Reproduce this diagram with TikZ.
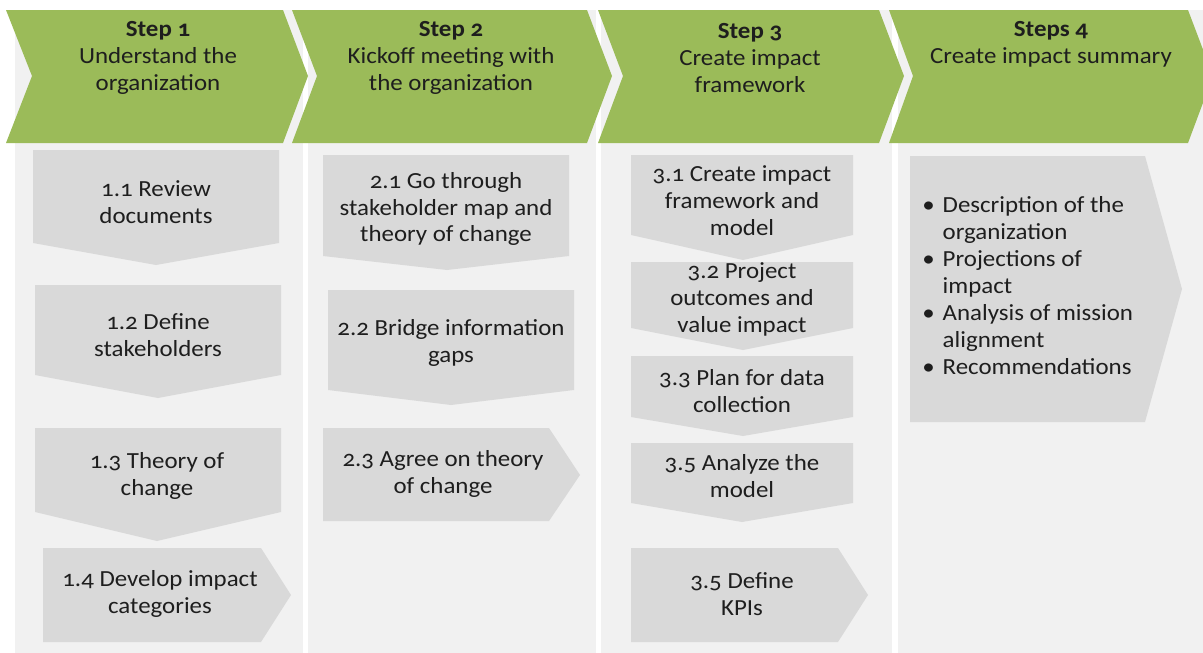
\documentclass[tikz,border=0pt]{standalone}
\usepackage{fontspec}
\setmainfont{Carlito}[Numbers=OldStyle,FakeStretch=1.08]
\definecolor{hdrgreen}{HTML}{9BBB59}
\definecolor{panelgray}{HTML}{F1F1F1}
\definecolor{boxgray}{HTML}{D9D9D9}
\definecolor{txt}{HTML}{1E1E1E}
\begin{document}
\begin{tikzpicture}[x=0.75pt,y=-0.75pt,
  hdr/.style={fill=hdrgreen,draw=none},
  panel/.style={fill=panelgray,draw=none},
  gbox/.style={fill=boxgray,draw=none},
  lbl/.style={text=txt,align=center,font=\fontsize{17.3}{20.2}\selectfont,inner sep=0pt},
  hlbl/.style={lbl}]
\useasboundingbox (0,0) rectangle (1203,653);
% column panels
\fill[panel] (15,10) rectangle (303,653);
\fill[panel] (308,10) rectangle (596,653);
\fill[panel] (601,10) rectangle (892,653);
\fill[panel] (898,10) rectangle (1203,653);
% header chevrons
\fill[hdr] (6,10) -- (283,10) -- (308,76) -- (283,143) -- (6,143) -- (32,76) -- cycle;
\fill[hdr] (292,10) -- (587,10) -- (612,76) -- (587,143) -- (292,143) -- (317,76) -- cycle;
\fill[hdr] (598,10) -- (879,10) -- (904,76) -- (879,143) -- (598,143) -- (623,76) -- cycle;
\fill[hdr] (889,10) -- (1188,10) -- (1213,76) -- (1188,143) -- (889,143) -- (913,76) -- cycle;
\node[hlbl] (h1) at (158,58) {\textbf{Step 1}\\Understand the\\organization};
\node[hlbl] (h2) at (451,58) {\textbf{Step 2}\\Kickoff meeting with\\the organization};
\node[hlbl] (h3) at (750,58) {\textbf{Step 3}\\Create impact\\framework};
\node[hlbl] (h4) at (1051,44.5) {\textbf{Steps 4}\\Create impact summary};
% column 1
\fill[gbox] (33,150) -- (279,150) -- (279,243) -- (156,265) -- (33,243) -- cycle;
\node[lbl] (b11) at (156,202) {1.1 Review\\documents};
\fill[gbox] (35,285) -- (281,285) -- (281,375) -- (158,398) -- (35,375) -- cycle;
\node[lbl] (b12) at (158,335) {1.2 Define\\stakeholders};
\fill[gbox] (35,428) -- (281,428) -- (281,512) -- (157,541) -- (35,512) -- cycle;
\node[lbl] (b13) at (157,476) {1.3 Theory of\\change};
\fill[gbox] (43,548) -- (261,548) -- (291,595) -- (261,642) -- (43,642) -- cycle;
\node[lbl] (b14) at (160,594) {1.4 Develop impact\\categories};
% column 2
\fill[gbox] (323,155) -- (569,155) -- (569,256) -- (447,270) -- (323,256) -- cycle;
\node[lbl] (b21) at (446,209) {2.1 Go through\\stakeholder map and\\theory of change};
\fill[gbox] (328,290) -- (574,290) -- (574,390) -- (451,405) -- (328,390) -- cycle;
\node[lbl] (b22) at (451,343) {2.2 Bridge information\\gaps};
\fill[gbox] (323,428) -- (549,428) -- (580,475) -- (549,521) -- (323,521) -- cycle;
\node[lbl] (b23) at (443,474) {2.3 Agree on theory\\of change};
% column 3
\fill[gbox] (631,155) -- (853,155) -- (853,235) -- (743,260) -- (631,235) -- cycle;
\node[lbl] (b31) at (742,201) {3.1 Create impact\\framework and\\model};
\fill[gbox] (631,262) -- (853,262) -- (853,328) -- (743,350) -- (631,328) -- cycle;
\node[lbl] (b32) at (742,299) {3.2 Project\\outcomes and\\value impact};
\fill[gbox] (631,356) -- (853,356) -- (853,417) -- (743,436) -- (631,417) -- cycle;
\node[lbl] (b33) at (742,391) {3.3 Plan for data\\collection};
\fill[gbox] (631,443) -- (853,443) -- (853,503) -- (742,522) -- (631,503) -- cycle;
\node[lbl] (b34) at (742,476) {3.5 Analyze the\\model};
\fill[gbox] (631,548) -- (838,548) -- (868,595) -- (838,642) -- (631,642) -- cycle;
\node[lbl] (b35) at (742,594) {3.5 Define\\KPIs};
% column 4
\fill[gbox] (910,156) -- (1145,156) -- (1182,289) -- (1145,422) -- (910,422) -- cycle;
\node[lbl,anchor=west,align=left] (b41) at (922,288) {%
\begin{tabular}{@{}l@{\hspace{6pt}}l@{}}
\textbullet & Description of the\\
 & organization\\
\textbullet & Projections of\\
 & impact\\
\textbullet & Analysis of mission\\
 & alignment\\
\textbullet & Recommendations
\end{tabular}};
\end{tikzpicture}
\end{document}
